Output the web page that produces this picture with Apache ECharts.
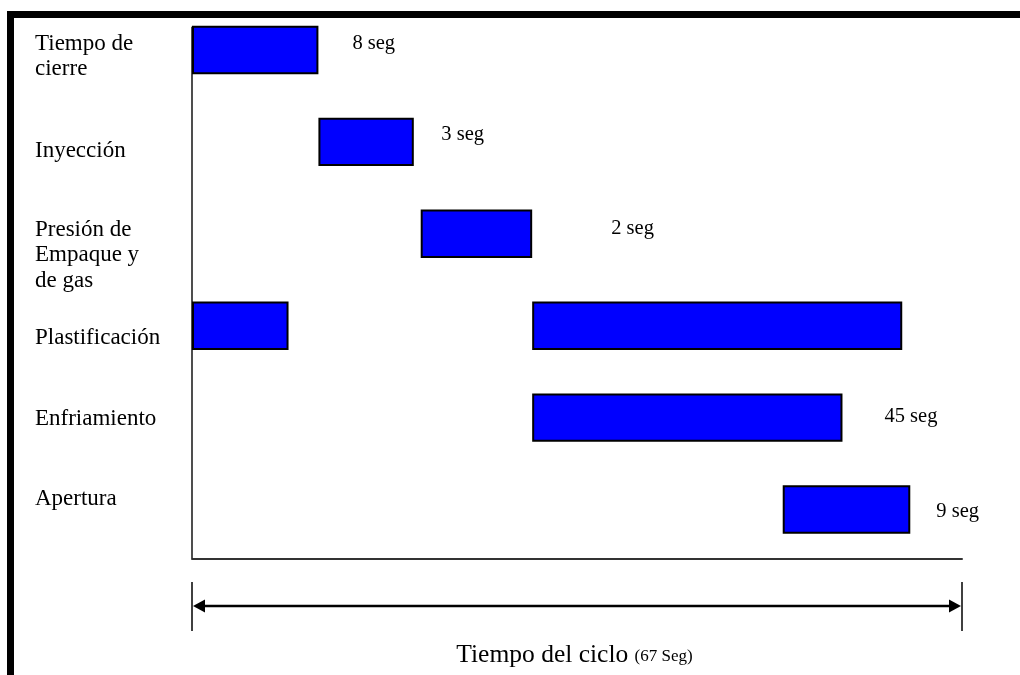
<!DOCTYPE html>
<html>
<head>
<meta charset="utf-8">
<script src="https://cdn.jsdelivr.net/npm/echarts@6/dist/echarts.min.js"></script>
<style>
  html, body { margin: 0; padding: 0; background: #ffffff; }
  #chart { width: 1020px; height: 675px; }
</style>
</head>
<body>
<div id="chart"></div>
<script>
// Fases del ciclo de moldeo por inyección, de arriba abajo
const phases = ['Tiempo de\ncierre', 'Inyección', 'Presión de\nEmpaque y\nde gas', 'Plastificación', 'Enfriamiento', 'Apertura'];

// Tramos del diagrama: fila de la fase, inicio y fin sobre el eje del ciclo (s)
const segRow   = [0,    1,    2,    3,   3,    4,    5];
const segStart = [0,    11.0, 19.9, 0,   29.6, 29.6, 51.4];
const segEnd   = [11.0, 19.3, 29.6, 8.4, 61.8, 56.6, 62.5];

// Duraciones anotadas junto a las fases
const durationRow = [0, 1, 2, 4, 5];
const durationSec = [8, 3, 2, 45, 9];

// Ciclo completo
const cycleSeconds = 67;
const cycleTitle = 'Tiempo del ciclo';

const SERIF = '"Liberation Serif", "Times New Roman", serif';

const chart = echarts.init(document.getElementById('chart'), null, { renderer: 'canvas' });

const segData = segRow.map((r, i) => [r, segStart[i], segEnd[i]]);

const option = {
  animation: false,
  backgroundColor: '#ffffff',
  grid: { left: 192, right: 58, top: 4, bottom: 119.5 },
  xAxis: {
    type: 'value',
    min: 0,
    max: cycleSeconds,
    offset: 3,
    axisLine: { show: true, lineStyle: { color: '#333333', width: 2 } },
    axisTick: { show: false },
    axisLabel: { show: false },
    splitLine: { show: false }
  },
  yAxis: {
    type: 'category',
    data: phases,
    inverse: true,
    axisLine: { show: false },
    axisTick: { show: false },
    axisLabel: { show: false },
    splitLine: { show: false }
  },
  series: [{
    type: 'custom',
    encode: { x: [1, 2], y: 0 },
    data: segData,
    renderItem: function (params, api) {
      const row = api.value(0);
      const p0 = api.coord([api.value(1), row]);
      const p1 = api.coord([api.value(2), row]);
      const h = api.size([0, 1])[1] * 0.505;
      return {
        type: 'rect',
        shape: { x: p0[0] + 1, y: p0[1] - h / 2, width: p1[0] - p0[0] - 2, height: h },
        style: { fill: '#0000ff', stroke: '#000000', lineWidth: 2 }
      };
    }
  }]
};

chart.setOption(option);

// Elementos de dibujo complementarios, ubicados con las escalas del gráfico
const xPx = v => chart.convertToPixel({ xAxisIndex: 0 }, v);
const yPx = i => chart.convertToPixel({ yAxisIndex: 0 }, i);
const band = yPx(1) - yPx(0);
const barH = band * 0.505;
const axisY = chart.getHeight() - 119.5 + 3;
const x0 = xPx(0);
const x1 = xPx(cycleSeconds);

// Ajustes verticales de los rótulos de fase respecto al centro de su fila
const phaseNudge = [6.7, 8.6, 21.2, 12.3, 1.4, -10.5];
// Separación horizontal y ajuste vertical de cada anotación de duración
const noteGap = [34, 27.5, 79, 42, 26];
const noteNudge = [-6, -7, -5, -1, 2.5];

const graphics = [];

// Marco
graphics.push({ type: 'rect', shape: { x: 7, y: 11, width: 1013, height: 7 }, style: { fill: '#000000' }, z: 10 });
graphics.push({ type: 'rect', shape: { x: 7, y: 11, width: 7, height: 664 }, style: { fill: '#000000' }, z: 10 });

// Eje vertical del diagrama
graphics.push({
  type: 'line',
  shape: { x1: x0, y1: yPx(0) - barH / 2, x2: x0, y2: axisY },
  style: { stroke: '#222222', lineWidth: 1.6 },
  z: 1
});

// Rótulos de las fases
phases.forEach((name, i) => {
  graphics.push({
    type: 'text',
    x: 35,
    y: yPx(i) + phaseNudge[i],
    style: {
      text: name,
      font: '23px ' + SERIF,
      lineHeight: 25.5,
      fill: '#000000',
      textAlign: 'left',
      textVerticalAlign: 'middle'
    }
  });
});

// Duraciones
durationRow.forEach((row, k) => {
  let end = 0;
  segRow.forEach((r, i) => { if (r === row) end = Math.max(end, segEnd[i]); });
  graphics.push({
    type: 'text',
    x: xPx(end) + noteGap[k],
    y: yPx(row) + noteNudge[k],
    style: {
      text: durationSec[k] + ' seg',
      font: '20.5px ' + SERIF,
      fill: '#000000',
      textAlign: 'left',
      textVerticalAlign: 'middle'
    }
  });
});

// Flecha de duración del ciclo
const arrowY = 606;
graphics.push({ type: 'line', shape: { x1: x0, y1: 582, x2: x0, y2: 631 }, style: { stroke: '#000000', lineWidth: 1.5 } });
graphics.push({ type: 'line', shape: { x1: x1, y1: 582, x2: x1, y2: 631 }, style: { stroke: '#000000', lineWidth: 1.5 } });
graphics.push({ type: 'line', shape: { x1: x0 + 6, y1: arrowY, x2: x1 - 6, y2: arrowY }, style: { stroke: '#000000', lineWidth: 2.5 } });
graphics.push({ type: 'polygon', shape: { points: [[x0 + 1, arrowY], [x0 + 13, arrowY - 6.5], [x0 + 13, arrowY + 6.5]] }, style: { fill: '#000000' } });
graphics.push({ type: 'polygon', shape: { points: [[x1 - 1, arrowY], [x1 - 13, arrowY - 6.5], [x1 - 13, arrowY + 6.5]] }, style: { fill: '#000000' } });

// Título del ciclo (ambas partes sobre la misma línea base)
graphics.push({
  type: 'text',
  x: (x0 + x1) / 2 - 2.5,
  y: 654,
  style: {
    text: '{a|' + cycleTitle + ' }{b|(' + cycleSeconds + ' Seg)}',
    rich: {
      a: { font: '25.5px ' + SERIF, fill: '#000000', lineHeight: 28, verticalAlign: 'bottom' },
      b: { font: '17px ' + SERIF, fill: '#000000', lineHeight: 28, verticalAlign: 'bottom', padding: [0, 0, 3, 0] }
    },
    textAlign: 'center',
    textVerticalAlign: 'middle'
  }
});

chart.setOption({ graphic: graphics });
</script>
</body>
</html>
